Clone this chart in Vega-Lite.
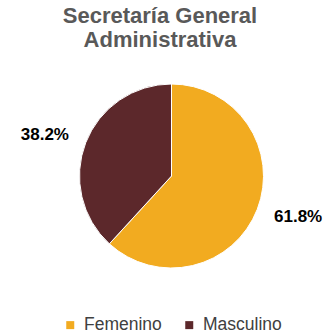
{
  "$schema": "https://vega.github.io/schema/vega-lite/v6.json",
  "width": 184,
  "height": 184,
  "autosize": {"type": "none"},
  "padding": {"left": 79.5, "top": 84, "right": 63.5, "bottom": 67},
  "background": "white",
  "title": {
    "text": ["Secretaría General", "Administrativa"],
    "font": "Liberation Sans",
    "fontSize": 22,
    "fontWeight": "bold",
    "color": "#595959",
    "anchor": "middle",
    "frame": "group",
    "dx": -11.5,
    "lineHeight": 24,
    "offset": 30
  },
  "data": {
    "values": [
      {"sexo": "Femenino", "pct": 61.8, "label": "61.8%"},
      {"sexo": "Masculino", "pct": 38.2, "label": "38.2%"}
    ]
  },
  "encoding": {
    "theta": {"field": "pct", "type": "quantitative", "stack": true},
    "order": {"field": "pct", "type": "quantitative", "sort": "descending"}
  },
  "layer": [
    {
      "mark": {"type": "arc", "stroke": "white", "strokeWidth": 1},
      "encoding": {
        "color": {
          "field": "sexo",
          "type": "nominal",
          "scale": {"domain": ["Femenino", "Masculino"], "range": ["#F2AB20", "#5C282B"]},
          "legend": {
            "title": null,
            "orient": "none",
            "direction": "horizontal",
            "legendX": -18,
            "legendY": 232,
            "symbolType": "square",
            "symbolSize": 64,
            "symbolStrokeWidth": 0,
            "labelFont": "Liberation Sans",
            "labelFontSize": 17.5,
            "labelColor": "#404040",
            "labelOffset": 5,
            "columnPadding": 18
          }
        }
      }
    },
    {
      "mark": {"type": "text", "radius": 133, "thetaOffset": -0.06, "font": "Liberation Sans", "fontSize": 17, "fontWeight": "bold", "color": "#000000"},
      "encoding": {"text": {"field": "label"}}
    }
  ]
}
